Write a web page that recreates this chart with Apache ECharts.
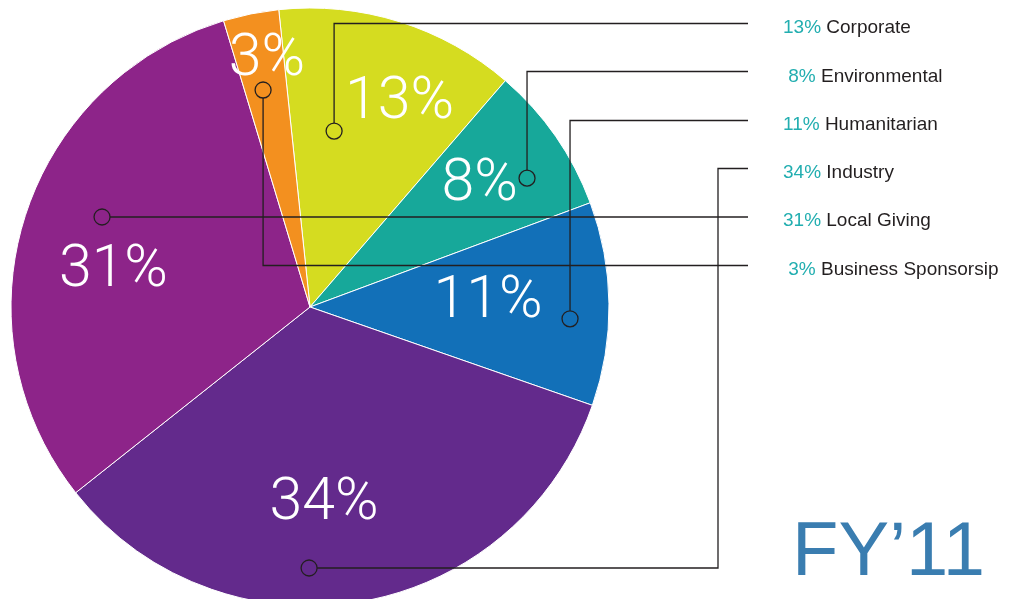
<!DOCTYPE html>
<html><head><meta charset="utf-8">
<script src="https://cdn.jsdelivr.net/npm/echarts@6/dist/echarts.min.js"></script>
<style>html,body{margin:0;padding:0;background:#fff}#c{width:1024px;height:599px}</style>
</head><body><div id="c"></div>
<script>
// ---- data ----
const categories = ['Corporate', 'Environmental', 'Humanitarian', 'Industry', 'Local Giving', 'Business Sponsorsip'];
const shares = [13, 8, 11, 34, 31, 3];
const chartTitle = 'FY\u201911';

// ---- styles / layout ----
const colors = ['#d5dc20', '#17a89a', '#1270b8', '#632a8c', '#8d2489', '#f3901f'];
const PIE = { cx: 310, cy: 307, r: 299, startAngle: 96 };
// label placement: [angle deg ccw from 3 o'clock, radius px from pie centre]
const labelPolar = [[66.3, 222.8], [35.6, 208.6], [1.4, 178.1], [-85.9, 197.5], [169.8, 199.7], [99.9, 250.7]];
// leader-line anchor circles: [angle, radius]
const anchorPolar = [[82.2, 177.6], [30.7, 252.4], [-2.6, 260.3], [-90.2, 261], [156.6, 226.6], [102.2, 222]];
const elbowX = [null, null, null, 718, null, null];
const LEG = { left: 773, firstRow: 23, step: 48.3, lineEnd: 748, font: 19 };

function polar(a, r) {
  const t = a * Math.PI / 180;
  return [PIE.cx + r * Math.cos(t), PIE.cy - r * Math.sin(t)];
}

const graphics = [];
const CR = 8;
categories.forEach((c, i) => {
  const [x, y] = polar(anchorPolar[i][0], anchorPolar[i][1]);
  const rowY = Math.round(LEG.firstRow + i * LEG.step) + 0.5;
  let pts;
  if (elbowX[i] != null) {
    pts = [[x + CR, y], [elbowX[i], y], [elbowX[i], rowY], [LEG.lineEnd, rowY]];
  } else if (Math.abs(rowY - y) <= CR) {
    pts = [[x + CR, y], [LEG.lineEnd, y]];
  } else {
    const sy = rowY < y ? y - CR : y + CR;
    pts = [[x, sy], [x, rowY], [LEG.lineEnd, rowY]];
  }
  graphics.push({ type: 'polyline', silent: true, z: 100, shape: { points: pts },
    style: { stroke: '#231f20', lineWidth: 1.3, fill: null } });
  graphics.push({ type: 'circle', silent: true, z: 100, shape: { cx: x, cy: y, r: CR },
    style: { stroke: '#231f20', lineWidth: 1.3, fill: null } });
});

const chart = echarts.init(document.getElementById('c'), null, { renderer: 'canvas' });
chart.setOption({
  animation: false,
  color: colors,
  title: {
    text: chartTitle, right: 34, top: 511,
    textStyle: { fontFamily: 'Liberation Sans', fontSize: 76, fontWeight: 'normal', color: '#3a7db0', lineHeight: 76 }
  },
  legend: {
    orient: 'vertical', left: LEG.left, top: LEG.firstRow - 10,
    itemWidth: 0, itemHeight: 0, itemGap: LEG.step - 20, icon: 'none', selectedMode: false,
    data: categories,
    formatter: function (name) {
      const v = shares[categories.indexOf(name)];
      return '{p|' + (v < 10 ? ' ' : '') + v + '%} {n|' + name + '}';
    },
    textStyle: {
      fontFamily: 'Liberation Sans', fontSize: LEG.font, lineHeight: 20,
      rich: {
        p: { color: '#22aeb0', fontFamily: 'Liberation Sans', fontSize: LEG.font, lineHeight: 20 },
        n: { color: '#231f20', fontFamily: 'Liberation Sans', fontSize: LEG.font, lineHeight: 20 }
      }
    }
  },
  graphic: graphics,
  series: [{
    type: 'pie',
    center: [PIE.cx, PIE.cy],
    radius: PIE.r,
    startAngle: PIE.startAngle,
    clockwise: true,
    avoidLabelOverlap: false,
    silent: true,
    itemStyle: { borderColor: '#ffffff', borderWidth: 1 },
    label: {
      show: true, position: 'inside', formatter: '{c}%',
      color: '#ffffff', fontFamily: 'Roboto', fontWeight: 300, fontSize: 59
    },
    labelLine: { show: false },
    labelLayout: function (p) {
      const pt = polar(labelPolar[p.dataIndex][0], labelPolar[p.dataIndex][1]);
      return { x: pt[0], y: pt[1], align: 'center', verticalAlign: 'middle' };
    },
    data: categories.map((n, i) => ({ name: n, value: shares[i] }))
  }]
});
</script>
</body></html>
